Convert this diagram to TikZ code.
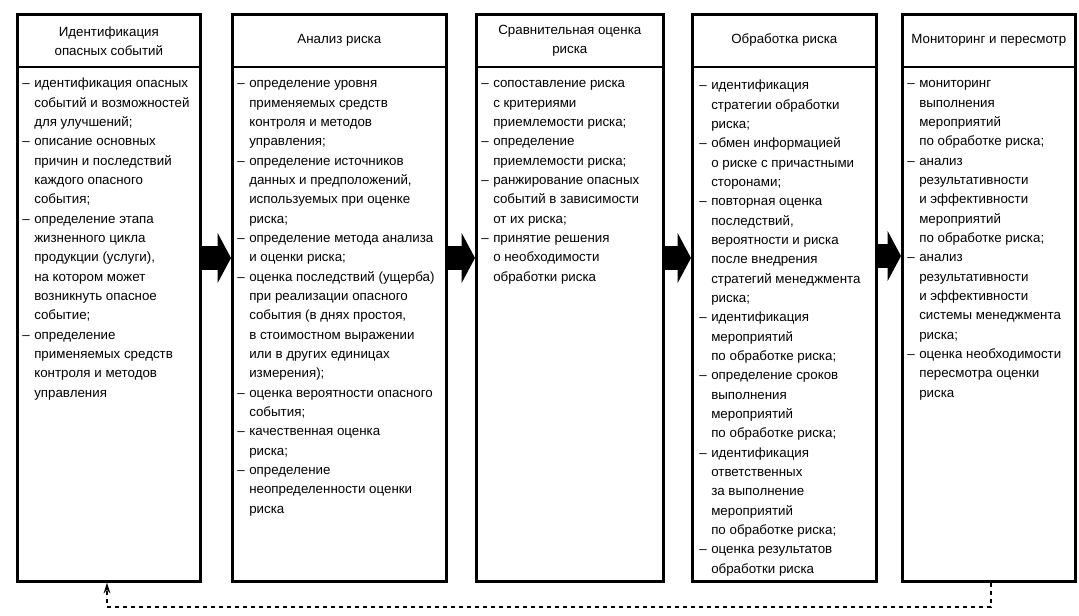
\documentclass[tikz,border=0pt]{standalone}
\usepackage{fontspec}
\setmainfont{Liberation Sans}
\usetikzlibrary{arrows.meta}
\setlength{\lineskip}{0pt}

% one item of a list, with hanging dash
\newcommand{\itm}[1]{\makebox[0.9em][l]{--}\begin{tabular}[t]{@{}l@{}}#1\end{tabular}}

\begin{document}
\begin{tikzpicture}[x=0.75pt,y=-0.75pt,
    every node/.style={font=\fontsize{10}{14.5}\selectfont},
    stage/.style={draw,line width=2pt,inner sep=0pt,anchor=north west,minimum height={567*0.75pt}},
    head/.style={align=center,inner sep=0pt},
    items/.style={anchor=north west,align=left,inner sep=0pt},
    block/.style={line width=18pt,-{Triangle[length=10pt,width=37pt]}},
    back/.style={dashed,line width=1pt}]
    \useasboundingbox (0,0) rectangle (1079,615);

    % Stages
    \node[stage,minimum width={183*0.75pt}] (id) at (16,13) {};
    \node[stage,minimum width={214*0.75pt}] (an) at (231,13) {};
    \node[stage,minimum width={187*0.75pt}] (sr) at (475,13) {};
    \node[stage,minimum width={184*0.75pt}] (ob) at (691,13) {};
    \node[stage,minimum width={173*0.75pt}] (mon) at (901,13) {};

    % Header lines
    \foreach \s in {id,an,sr,ob,mon}
        \draw[line width=1.5pt] (\s.west |- 0,67) -- (\s.east |- 0,67);

    % Headers
    \node[head] (hid) at (id.center |- 0,41) {Идентификация\\опасных событий};
    \node[head] (han) at (an.center |- 0,40) {Анализ риска};
    \node[head] (hsr) at (sr.center |- 0,41) {Сравнительная оценка\\риска};
    \node[head] (hob) at (ob.center |- 0,40) {Обработка риска};
    \node[head] (hmon) at (mon.center |- 0,40) {Мониторинг и пересмотр};

    % Lists
    \node[items] (lid) at (22,74) {%
        \itm{идентификация опасных\\событий и возможностей\\для улучшений;}\\
        \itm{описание основных\\причин и последствий\\каждого опасного\\события;}\\
        \itm{определение этапа\\жизненного цикла\\продукции (услуги),\\на котором может\\возникнуть опасное\\событие;}\\
        \itm{определение\\применяемых средств\\контроля и методов\\управления}};
    \node[items] (lan) at (237,74) {%
        \itm{определение уровня\\применяемых средств\\контроля и методов\\управления;}\\
        \itm{определение источников\\данных и предположений,\\используемых при оценке\\риска;}\\
        \itm{определение метода анализа\\и оценки риска;}\\
        \itm{оценка последствий (ущерба)\\при реализации опасного\\события (в днях простоя,\\в стоимостном выражении\\или в других единицах\\измерения);}\\
        \itm{оценка вероятности опасного\\события;}\\
        \itm{качественная оценка\\риска;}\\
        \itm{определение\\неопределенности оценки\\риска}};
    \node[items] (lsr) at (481,74) {%
        \itm{сопоставление риска\\с критериями\\приемлемости риска;}\\
        \itm{определение\\приемлемости риска;}\\
        \itm{ранжирование опасных\\событий в зависимости\\от их риска;}\\
        \itm{принятие решения\\о необходимости\\обработки риска}};
    \node[items] (lob) at (699,76) {%
        \itm{идентификация\\стратегии обработки\\риска;}\\
        \itm{обмен информацией\\о риске с причастными\\сторонами;}\\
        \itm{повторная оценка\\последствий,\\вероятности и риска\\после внедрения\\стратегий менеджмента\\риска;}\\
        \itm{идентификация\\мероприятий\\по обработке риска;}\\
        \itm{определение сроков\\выполнения\\мероприятий\\по обработке риска;}\\
        \itm{идентификация\\ответственных\\за выполнение\\мероприятий\\по обработке риска;}\\
        \itm{оценка результатов\\обработки риска}};
    \node[items] (lmon) at (907,74) {%
        \itm{мониторинг\\выполнения\\мероприятий\\по обработке риска;}\\
        \itm{анализ\\результативности\\и эффективности\\мероприятий\\по обработке риска;}\\
        \itm{анализ\\результативности\\и эффективности\\системы менеджмента\\риска;}\\
        \itm{оценка необходимости\\пересмотра оценки\\риска}};

    % Block arrows between stages
    \draw[block] (id.east |- 0,258) -- (an.west |- 0,258);
    \draw[block] (an.east |- 0,258) -- (sr.west |- 0,258);
    \draw[block] (sr.east |- 0,258) -- (ob.west |- 0,258);
    \draw[block] (ob.east |- 0,256) -- (mon.west |- 0,256);

    % Feedback loop
    \coordinate (fr) at (991,607);
    \coordinate (fl) at (107,607);
    \draw[back,-{Stealth[length=8pt,width=5pt]}] (mon.south -| fr) -- (fr) -- (fl) -- (id.south -| fl);
\end{tikzpicture}
\end{document}
